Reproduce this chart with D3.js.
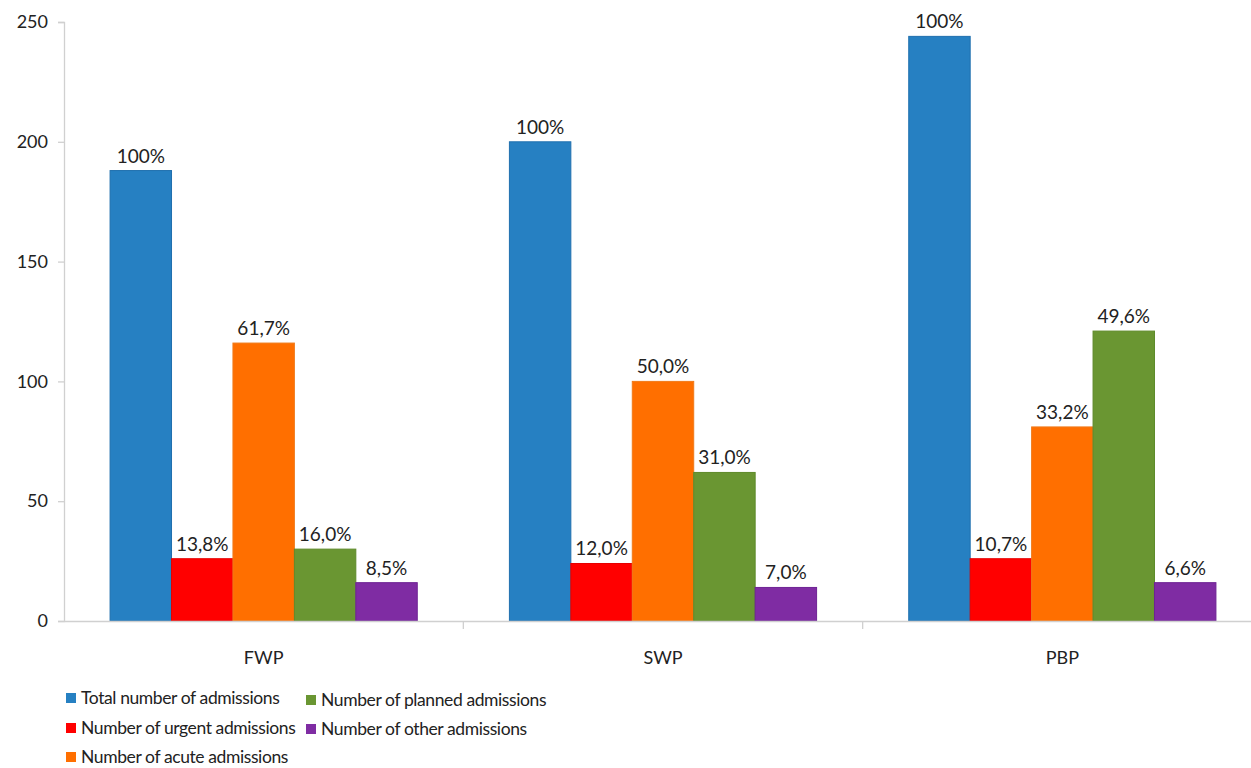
<!DOCTYPE html>
<html>
<head>
<meta charset="utf-8">
<script src="https://cdn.jsdelivr.net/npm/d3@7"></script>
<style>
  html, body { margin: 0; padding: 0; background: #ffffff; }
  svg { display: block; font-family: Lato, "Open Sans", sans-serif; }
</style>
</head>
<body>
<svg id="chart" width="1251" height="768"></svg>
<script>
// Hospital admissions by period
const categories = ["FWP", "SWP", "PBP"];
const seriesNames = [
  "Total number of admissions",
  "Number of urgent admissions",
  "Number of acute admissions",
  "Number of planned admissions",
  "Number of other admissions"
];
const seriesColors = ["#2680c2", "#ff0000", "#ff6f00", "#6a9632", "#7f2ca3"];
const seriesStroke = ["#1f6fae", "#e60000", "#f07a1a", "#5e8a2a", "#6e2394"];

const totalValues   = [188, 200, 244];
const urgentValues  = [26, 24, 26];
const acuteValues   = [116, 100, 81];
const plannedValues = [30, 62, 121];
const otherValues   = [16, 14, 16];

const totalLabels   = ["100%", "100%", "100%"];
const urgentLabels  = ["13,8%", "12,0%", "10,7%"];
const acuteLabels   = ["61,7%", "50,0%", "33,2%"];
const plannedLabels = ["16,0%", "31,0%", "49,6%"];
const otherLabels   = ["8,5%", "7,0%", "6,6%"];

const yTicks = [0, 50, 100, 150, 200, 250];

const seriesValues = [totalValues, urgentValues, acuteValues, plannedValues, otherValues];
const seriesLabels = [totalLabels, urgentLabels, acuteLabels, plannedLabels, otherLabels];

const svg = d3.select("#chart");
const plot = { left: 64, right: 1262, top: 22, bottom: 621 };

const x0 = d3.scaleBand().domain(categories).range([plot.left, plot.right]).padding(0);
const x1 = d3.scaleBand().domain(d3.range(seriesNames.length))
  .range([0, x0.bandwidth()]).paddingInner(0).paddingOuter(0.75);
const y = d3.scaleLinear().domain([0, 250]).range([plot.bottom, plot.top]);

const axisColor = "#d0d0d0";

// Y axis
const yAxis = svg.append("g")
  .attr("transform", `translate(${plot.left},0)`)
  .call(d3.axisLeft(y).tickValues(yTicks).tickSize(6).tickPadding(10));
yAxis.select(".domain").attr("stroke", axisColor).attr("stroke-width", 1.3);
yAxis.selectAll(".tick line").attr("stroke", axisColor).attr("stroke-width", 1.3);
yAxis.selectAll(".tick text").attr("fill", "#222").style("font-size", "18px")
  .style("font-family", "Lato, 'Open Sans', sans-serif");

// Bars
const groups = svg.append("g").selectAll("g")
  .data(categories).join("g")
  .attr("transform", c => `translate(${x0(c)},0)`);

groups.each(function(c, ci) {
  const g = d3.select(this);
  seriesValues.forEach((vals, si) => {
    const v = vals[ci];
    g.append("rect")
      .attr("x", x1(si))
      .attr("y", y(v))
      .attr("width", x1.bandwidth())
      .attr("height", y(0) - y(v))
      .attr("fill", seriesColors[si])
      .attr("stroke", seriesStroke[si])
      .attr("stroke-width", 1);
    g.append("text")
      .attr("x", x1(si) + x1.bandwidth() / 2)
      .attr("y", y(v) - 8)
      .attr("text-anchor", "middle")
      .attr("fill", "#222")
      .style("font-size", "19px")
      .text(seriesLabels[si][ci]);
  });
});

// X axis
const xAxis = svg.append("g")
  .attr("transform", `translate(0,${plot.bottom})`)
  .call(d3.axisBottom(x0).tickSize(0).tickPadding(30));
xAxis.select(".domain").attr("stroke", axisColor).attr("stroke-width", 1.3);
xAxis.selectAll(".tick text").attr("fill", "#222").style("font-size", "18px")
  .style("font-family", "Lato, 'Open Sans', sans-serif");
// separators between categories
svg.append("g").selectAll("line")
  .data(categories.slice(1)).join("line")
  .attr("x1", c => x0(c)).attr("x2", c => x0(c))
  .attr("y1", plot.bottom).attr("y2", plot.bottom + 8)
  .attr("stroke", axisColor).attr("stroke-width", 1.3);

// Legend
const legendPos = [
  { x: 66, y: 698 }, { x: 66, y: 728 }, { x: 66, y: 757 },
  { x: 306, y: 700 }, { x: 306, y: 729 }
];
const legend = svg.append("g").selectAll("g")
  .data(seriesNames).join("g")
  .attr("transform", (d, i) => `translate(${legendPos[i].x},${legendPos[i].y})`);
legend.append("rect")
  .attr("x", 0).attr("y", -5).attr("width", 10).attr("height", 10)
  .attr("fill", (d, i) => seriesColors[i]);
legend.append("text")
  .attr("x", 15).attr("y", 0).attr("dy", "0.35em")
  .attr("fill", "#222").style("font-size", "17.5px")
  .style("letter-spacing", "-0.4px")
  .text(d => d);
</script>
</body>
</html>
